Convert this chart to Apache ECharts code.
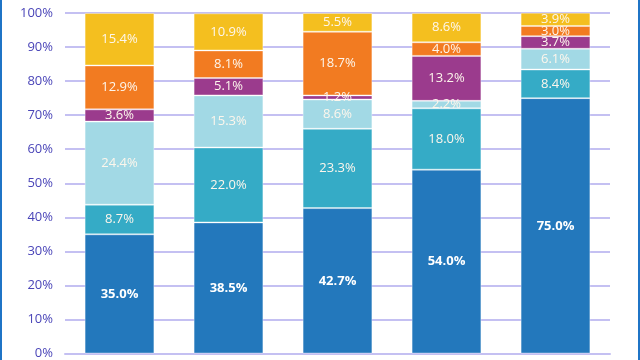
<!DOCTYPE html>
<html><head><meta charset="utf-8">
<script src="https://cdn.jsdelivr.net/npm/echarts@6/dist/echarts.min.js"></script>
<style>
html,body{margin:0;padding:0;background:#fff;}
#wrap{position:relative;width:640px;height:360px;}
#chart{width:640px;height:360px;}
#wrap:before,#wrap:after{content:"";position:absolute;top:0;bottom:0;width:2px;background:#1f74c6;z-index:5;}
#wrap:before{left:0;}
#wrap:after{right:0;}
</style></head>
<body><div id="wrap"><div id="chart"></div></div>
<script>
const categories = ['A','B','C','D','E'];
const seriesNames = ['S1','S2','S3','S4','S5','S6'];
const s1 = [35.0, 38.5, 42.7, 54.0, 75.0];
const s2 = [8.7, 22.0, 23.3, 18.0, 8.4];
const s3 = [24.4, 15.3, 8.6, 2.2, 6.1];
const s4 = [3.6, 5.1, 1.2, 13.2, 3.7];
const s5 = [12.9, 8.1, 18.7, 4.0, 3.0];
const s6 = [15.4, 10.9, 5.5, 8.6, 3.9];
const colors = ['#2378bc','#35abc6','#a2d9e5','#9b3b8d','#f27b21','#f4bf1f'];
const allData = [s1,s2,s3,s4,s5,s6];

const chart = echarts.init(document.getElementById('chart'));
chart.setOption({
  animation:false,
  grid:{left:65,right:30,top:13,bottom:5,containLabel:false},
  xAxis:{type:'category',data:categories,axisLabel:{show:false},axisTick:{show:false},
    axisLine:{show:true,lineStyle:{color:'#c4c0f2',width:2}}},
  yAxis:{type:'value',min:0,max:100,interval:10,
    axisLabel:{formatter:'{value}%',color:'#4a45b8',fontSize:13,fontFamily:'Open Sans',margin:12},
    axisLine:{show:false},axisTick:{show:false},
    splitLine:{lineStyle:{color:'#c4c0f2',width:2}}},
  series: allData.map((d,i)=>({
    name:seriesNames[i],type:'bar',stack:'total',barWidth:'64%',data:d,
    itemStyle:{color:colors[i],borderColor:'rgba(255,255,255,0.35)',borderWidth:1},
    label:{show:true,position:'inside',formatter:p=>p.value.toFixed(1)+'%',
      color:i===0?'#ffffff':'#fdf6ec',fontSize:13,fontFamily:'Open Sans',
      fontWeight:i===0?'bold':'normal'}
  }))
});
</script></body></html>
